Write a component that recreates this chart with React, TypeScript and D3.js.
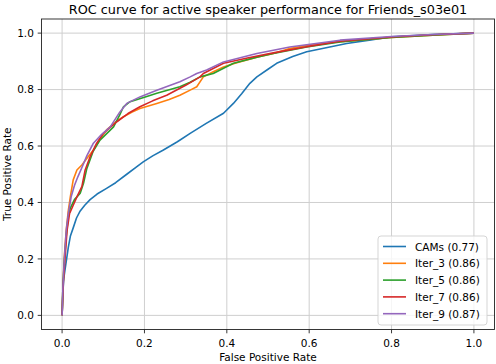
import * as d3 from "d3"

type Pt = [number, number]

// ROC points: [false positive rate, true positive rate]
const camsRoc: Pt[] = [
  [0, 0], [0.002, 0.08], [0.004, 0.13], [0.007, 0.16], [0.011, 0.2], [0.015, 0.24],
  [0.02, 0.28], [0.027, 0.31], [0.035, 0.345], [0.044, 0.37], [0.055, 0.39], [0.068, 0.41],
  [0.085, 0.43], [0.108, 0.45], [0.13, 0.47], [0.157, 0.5], [0.18, 0.525], [0.197, 0.544],
  [0.22, 0.565], [0.246, 0.586], [0.28, 0.615], [0.311, 0.645], [0.35, 0.68], [0.392, 0.716],
  [0.416, 0.751], [0.436, 0.785], [0.456, 0.822], [0.473, 0.845], [0.5, 0.872], [0.521, 0.893],
  [0.56, 0.917], [0.594, 0.934], [0.65, 0.951], [0.691, 0.963], [0.75, 0.976], [0.8, 0.987],
  [0.9, 0.995], [1, 1],
]
const iter3Roc: Pt[] = [
  [0, 0], [0.002, 0.1], [0.005, 0.2], [0.01, 0.3], [0.015, 0.37], [0.02, 0.42], [0.027, 0.48],
  [0.036, 0.515], [0.048, 0.533], [0.06, 0.556], [0.076, 0.586], [0.09, 0.62], [0.108, 0.657],
  [0.13, 0.685], [0.149, 0.704], [0.17, 0.72], [0.189, 0.733], [0.23, 0.751], [0.26, 0.765],
  [0.286, 0.78], [0.311, 0.798], [0.327, 0.81], [0.343, 0.845], [0.367, 0.863], [0.392, 0.88],
  [0.42, 0.893], [0.473, 0.915], [0.513, 0.928], [0.553, 0.945], [0.6, 0.958], [0.675, 0.97],
  [0.8, 0.985], [0.9, 0.993], [1, 1],
]
const iter5Roc: Pt[] = [
  [0, 0], [0.002, 0.1], [0.005, 0.18], [0.01, 0.28], [0.015, 0.35], [0.02, 0.38], [0.03, 0.41],
  [0.044, 0.433], [0.052, 0.468], [0.06, 0.52], [0.075, 0.58], [0.092, 0.621], [0.125, 0.668],
  [0.14, 0.71], [0.149, 0.739], [0.165, 0.757], [0.2, 0.773], [0.23, 0.787], [0.286, 0.81],
  [0.311, 0.826], [0.335, 0.845], [0.367, 0.857], [0.416, 0.893], [0.473, 0.915], [0.513, 0.928],
  [0.594, 0.951], [0.675, 0.969], [0.8, 0.985], [0.9, 0.993], [1, 1],
]
const iter7Roc: Pt[] = [
  [0, 0], [0.002, 0.08], [0.003, 0.114], [0.007, 0.2], [0.012, 0.3], [0.018, 0.36], [0.027, 0.39],
  [0.036, 0.42], [0.048, 0.456], [0.056, 0.515], [0.068, 0.562], [0.084, 0.61], [0.1, 0.645],
  [0.133, 0.686], [0.16, 0.715], [0.189, 0.739], [0.22, 0.76], [0.254, 0.78], [0.3, 0.815],
  [0.335, 0.845], [0.343, 0.857], [0.392, 0.893], [0.45, 0.912], [0.513, 0.93], [0.594, 0.952],
  [0.675, 0.971], [0.8, 0.986], [0.9, 0.994], [1, 1],
]
const iter9Roc: Pt[] = [
  [0, 0], [0.002, 0.1], [0.005, 0.19], [0.01, 0.3], [0.015, 0.36], [0.022, 0.42], [0.03, 0.46],
  [0.038, 0.49], [0.05, 0.53], [0.06, 0.565], [0.076, 0.61], [0.095, 0.64], [0.117, 0.668],
  [0.14, 0.72], [0.157, 0.751], [0.189, 0.774], [0.23, 0.798], [0.286, 0.828], [0.311, 0.845],
  [0.327, 0.857], [0.351, 0.869], [0.392, 0.898], [0.473, 0.928], [0.553, 0.951], [0.675, 0.975],
  [0.8, 0.988], [0.9, 0.995], [1, 1],
]

const seriesNames = ["CAMs (0.77)", "Iter_3 (0.86)", "Iter_5 (0.86)", "Iter_7 (0.86)", "Iter_9 (0.87)"]
const seriesData = [camsRoc, iter3Roc, iter5Roc, iter7Roc, iter9Roc]
const colors = ["#1f77b4", "#ff7f0e", "#2ca02c", "#d62728", "#9467bd"]
const ticks = [0, 0.2, 0.4, 0.6, 0.8, 1.0]

const width = 496
const height = 364
const margin = { top: 19, right: 1.5, bottom: 34.5, left: 41.5 }
const font = "DejaVu Sans, sans-serif"

export default function App() {
  const x = d3.scaleLinear().domain([-0.05, 1.05]).range([margin.left, width - margin.right])
  const y = d3.scaleLinear().domain([-0.05, 1.05]).range([height - margin.bottom, margin.top])

  const line = d3.line<Pt>().x(d => x(d[0])).y(d => y(d[1]))

  const legX = 378
  const legY = 236
  const rowH = 16.8

  return (
    <svg width={width} height={height} style={{ position: "absolute", left: 0, top: 0 }} fontFamily={font}>
      <rect width={width} height={height} fill="#fff" />

      {/* grid */}
      {ticks.map(t => (
        <g key={"g" + t} stroke="#cfcfcf" strokeWidth={1}>
          <line x1={x(t)} x2={x(t)} y1={margin.top} y2={height - margin.bottom} />
          <line x1={margin.left} x2={width - margin.right} y1={y(t)} y2={y(t)} />
        </g>
      ))}

      {/* curves */}
      {seriesData.map((d, i) => (
        <path key={i} d={line(d) ?? ""} fill="none" stroke={colors[i]} strokeWidth={1.6} strokeLinejoin="round" />
      ))}

      {/* frame */}
      <rect x={margin.left} y={margin.top} width={width - margin.right - margin.left}
        height={height - margin.bottom - margin.top} fill="none" stroke="#222" strokeWidth={0.9} />

      {/* x ticks */}
      {ticks.map(t => (
        <g key={"x" + t}>
          <line x1={x(t)} x2={x(t)} y1={height - margin.bottom} y2={height - margin.bottom + 3.8} stroke="#222" strokeWidth={0.9} />
          <text x={x(t)} y={height - margin.bottom + 17} textAnchor="middle" fontSize={10.5}>{t.toFixed(1)}</text>
        </g>
      ))}
      {/* y ticks */}
      {ticks.map(t => (
        <g key={"y" + t}>
          <line x1={margin.left - 3.8} x2={margin.left} y1={y(t)} y2={y(t)} stroke="#222" strokeWidth={0.9} />
          <text x={margin.left - 7.6} y={y(t) + 3.8} textAnchor="end" fontSize={10.5}>{t.toFixed(1)}</text>
        </g>
      ))}

      <text x={(margin.left + width - margin.right) / 2} y={361} textAnchor="middle" fontSize={10.5}>False Positive Rate</text>
      <text transform={`translate(11,${(margin.top + height - margin.bottom) / 2}) rotate(-90)`} textAnchor="middle" fontSize={10.5}>True Positive Rate</text>
      <text x={(margin.left + width - margin.right) / 2} y={14} textAnchor="middle" fontSize={12.8}>ROC curve for active speaker performance for Friends_s03e01</text>

      {/* legend */}
      <rect x={legX} y={legY} width={109} height={89} rx={3} fill="#fff" fillOpacity={0.8} stroke="#d0d0d0" strokeWidth={0.9} />
      {seriesNames.map((n, i) => (
        <g key={n}>
          <line x1={legX + 5} x2={legX + 28} y1={legY + 10.5 + i * rowH} y2={legY + 10.5 + i * rowH} stroke={colors[i]} strokeWidth={1.6} />
          <text x={legX + 37} y={legY + 14.5 + i * rowH} fontSize={10.5}>{n}</text>
        </g>
      ))}
    </svg>
  )
}
